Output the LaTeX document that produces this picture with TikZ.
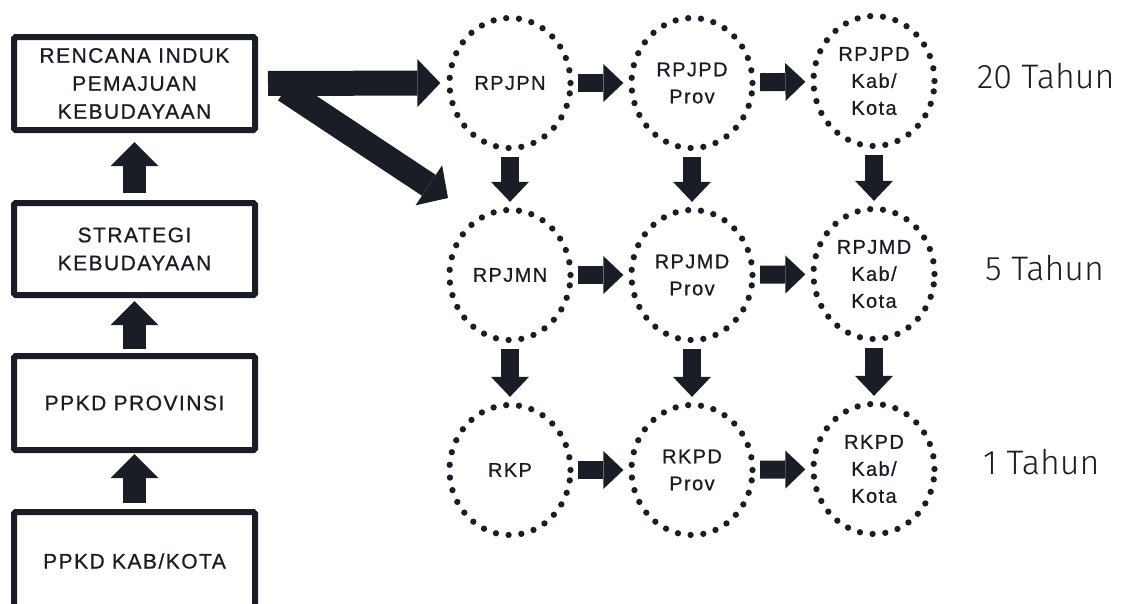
\documentclass[tikz,border=0pt]{standalone}
\usepackage{fontspec}
\setmainfont{Liberation Sans}
\newfontfamily\spacedfont[LetterSpace=7,FakeBold=0.8]{Liberation Sans}
\IfFontExistsTF{Fira Sans Light}
  {\newfontfamily\lightfont{Fira Sans Light}}
  {\newfontfamily\lightfont{Liberation Sans}}
\usetikzlibrary{arrows.meta,shapes.geometric}
\definecolor{ink}{HTML}{1B1D26}

\begin{document}
\begin{tikzpicture}[x=1pt,y=-1pt,
    box/.style={draw=ink, line width=6pt, rounded corners=1.5pt, minimum width=241pt,
      align=center, text=ink, font=\spacedfont\fontsize{21}{28}\selectfont},
    ring/.style={ellipse, draw=ink, line width=6.3pt, dash pattern=on 0pt off 12.8pt,
      line cap=round, minimum width=121pt, minimum height=130pt, inner sep=0pt,
      align=center, text=ink, font=\spacedfont\fontsize{20}{27}\selectfont},
    upblock/.style={draw=ink, line width=23pt, -{Triangle[width=48pt,length=24pt,line width=0pt]}},
    bigblock/.style={draw=ink, line width=25pt, -{Triangle[width=48pt,length=23pt,line width=0pt]}},
    smallblock/.style={draw=ink, line width=18pt, -{Triangle[width=38pt,length=20pt,line width=0pt]}},
    years/.style={anchor=west, inner sep=0pt, text=ink, font=\lightfont\fontsize{34}{40}\selectfont}]
    \useasboundingbox (0,0) rectangle (1125,603);
    \clip (0,0) rectangle (1125,603);

    % left column
    \node[box, minimum height=93pt] (rip) at (134.5, 83.5) {RENCANA INDUK\\PEMAJUAN\\KEBUDAYAAN};
    \node[box, minimum height=92pt] (strat) at (134.5, 249) {STRATEGI\\KEBUDAYAAN};
    \node[box, minimum height=94pt] (ppkdprov) at (134.5, 403) {PPKD PROVINSI};
    \node[box, minimum height=98pt] (ppkdkab) at (134.5, 561) {PPKD KAB/KOTA};

    \draw[upblock, shorten <=7pt, shorten >=9pt] (strat) -- (rip);
    \draw[upblock, shorten <=4pt, shorten >=3pt] (ppkdprov) -- (strat);
    \draw[upblock, shorten <=6pt, shorten >=1pt] (ppkdkab) -- (ppkdprov);

    % plans
    \node[ring] (rpjpn) at (510, 83) {RPJPN};
    \node[ring] (rpjpdprov) at (692, 83) {RPJPD\\Prov};
    \node[ring] (rpjpdkab) at (874, 81) {RPJPD\\Kab/\\Kota};

    \node[ring] (rpjmn) at (510, 275) {RPJMN};
    \node[ring] (rpjmdprov) at (692, 275) {RPJMD\\Prov};
    \node[ring] (rpjmdkab) at (874, 274) {RPJMD\\Kab/\\Kota};

    \node[ring] (rkp) at (510, 470) {RKP};
    \node[ring] (rkpdprov) at (692, 470) {RKPD\\Prov};
    \node[ring] (rkpdkab) at (874, 469) {RKPD\\Kab/\\Kota};

    \coordinate (diagstart) at (285, 90);
    \coordinate (diagtip) at (448, 198);
    \draw[bigblock] (diagstart) -- (diagtip);
    \draw[bigblock, shorten <=10pt, shorten >=6pt] (rip.east) -- (rpjpn.west);

    \draw[smallblock, shorten <=4.5pt, shorten >=5pt] (rpjpn) -- (rpjpdprov);
    \draw[smallblock, shorten <=4.5pt, shorten >=5pt] (rpjpdprov) -- (rpjpdkab);
    \draw[smallblock, shorten <=4.5pt, shorten >=5pt] (rpjmn) -- (rpjmdprov);
    \draw[smallblock, shorten <=4.5pt, shorten >=5pt] (rpjmdprov) -- (rpjmdkab);
    \draw[smallblock, shorten <=4.5pt, shorten >=5pt] (rkp) -- (rkpdprov);
    \draw[smallblock, shorten <=4.5pt, shorten >=5pt] (rkpdprov) -- (rkpdkab);

    \draw[smallblock, shorten <=6pt, shorten >=5pt] (rpjpn) -- (rpjmn);
    \draw[smallblock, shorten <=6pt, shorten >=5pt] (rpjpdprov) -- (rpjmdprov);
    \draw[smallblock, shorten <=6pt, shorten >=5pt] (rpjpdkab) -- (rpjmdkab);
    \draw[smallblock, shorten <=6pt, shorten >=5pt] (rpjmn) -- (rkp);
    \draw[smallblock, shorten <=6pt, shorten >=5pt] (rpjmdprov) -- (rkpdprov);
    \draw[smallblock, shorten <=6pt, shorten >=5pt] (rpjmdkab) -- (rkpdkab);

    \node[years] (t20) at (977, 76) {20 Tahun};
    \node[years] (t5) at (985, 268) {5 Tahun};
    \node[years] (t1) at (983, 462) {1 Tahun};
\end{tikzpicture}
\end{document}
